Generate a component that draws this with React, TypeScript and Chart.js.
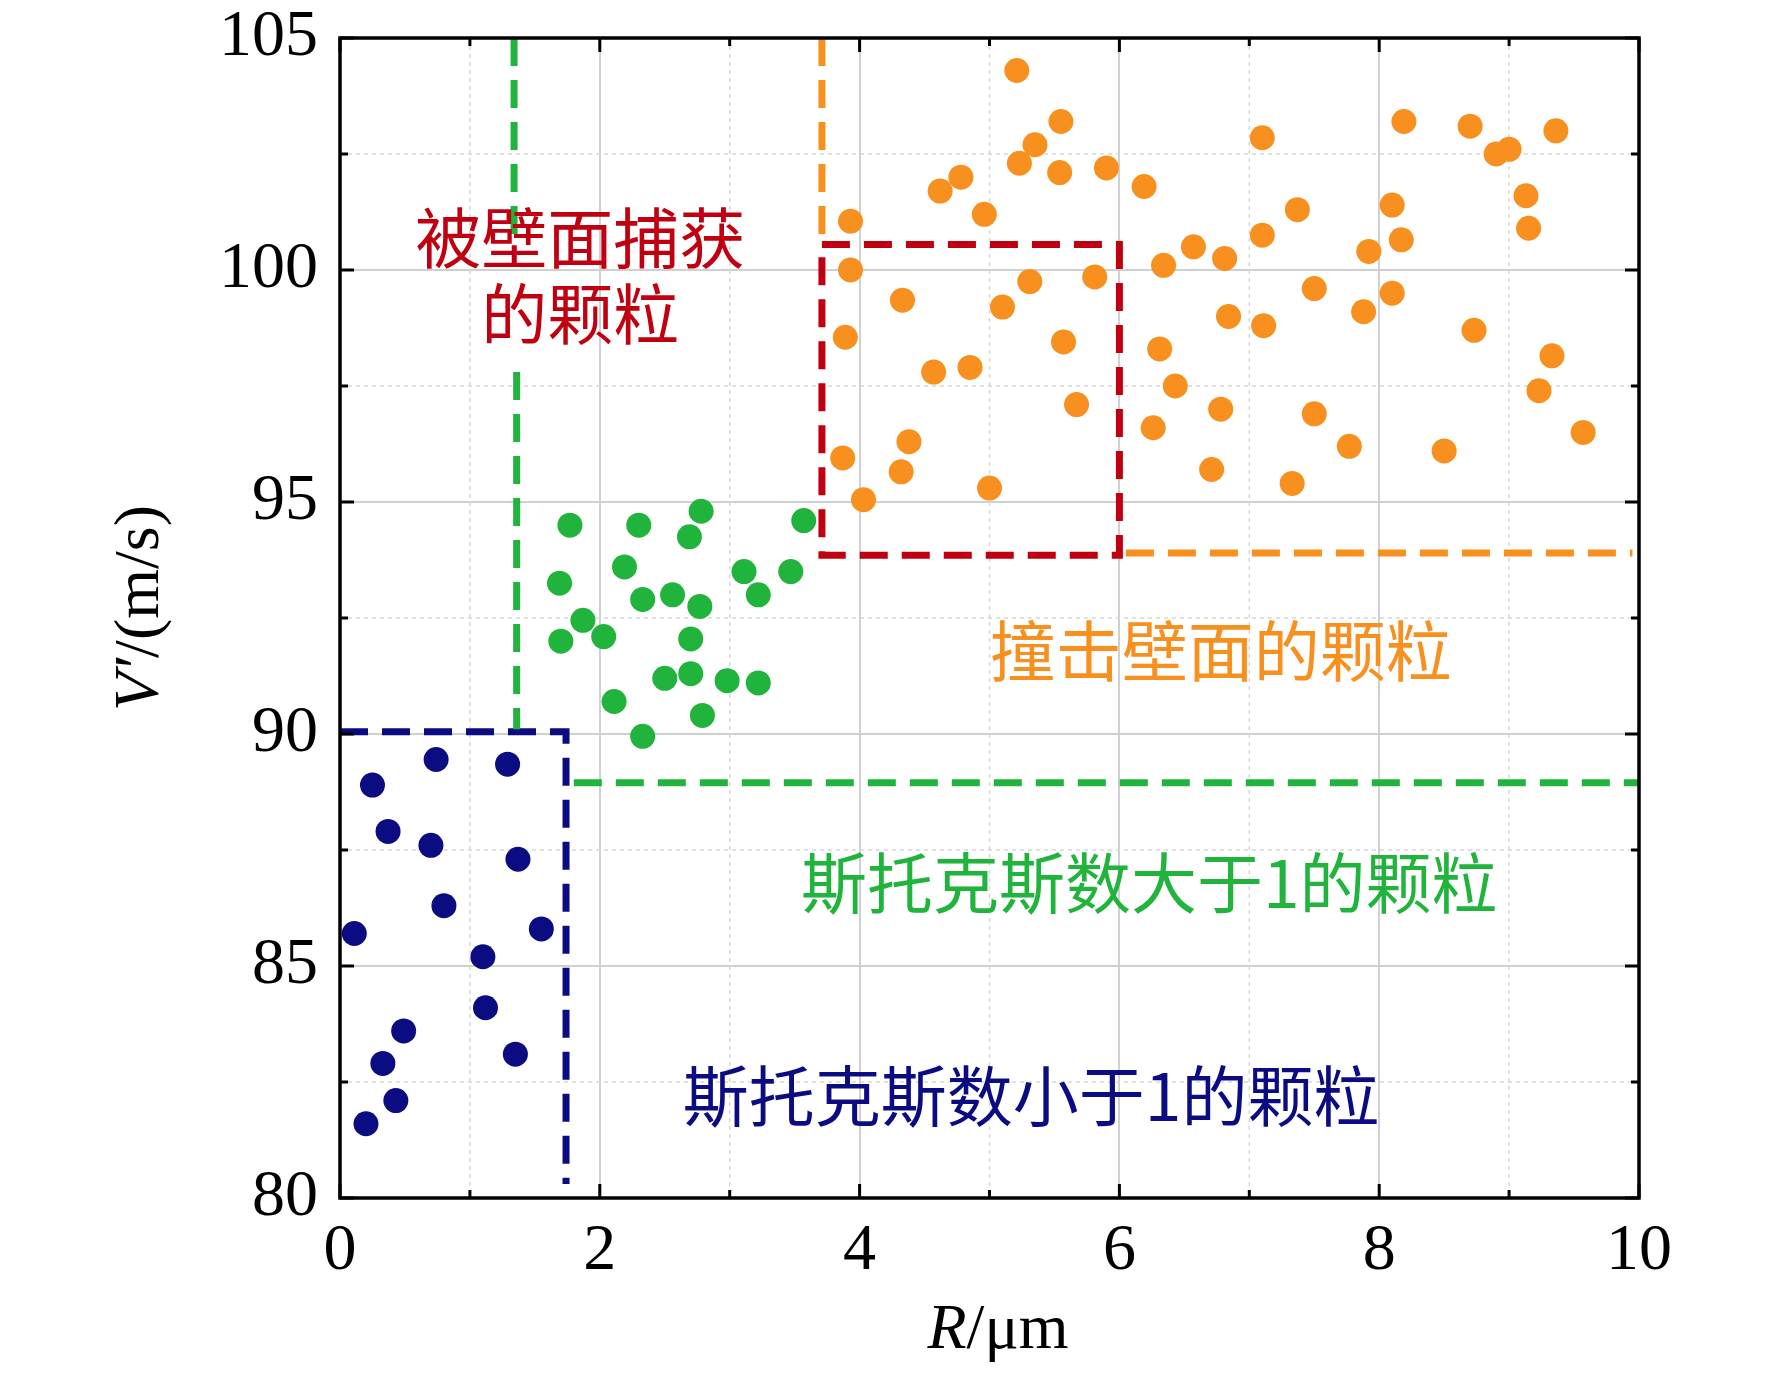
import React, { useEffect, useRef } from "react";
import { Chart, registerables } from "chart.js";
Chart.register(...registerables);

const blueX = [0.11,0.25,0.37,0.74,0.70,1.29,1.37,0.80,1.55,1.10,1.12,0.49,0.33,1.35,0.43,0.20];
const blueY = [85.7,88.9,87.9,89.45,87.6,89.35,87.3,86.3,85.8,85.2,84.1,83.6,82.9,83.1,82.1,81.6];
const greenX = [1.77,1.69,1.70,1.87,2.03,2.19,2.30,2.33,2.56,2.69,2.78,2.77,2.70,2.70,2.50,2.79,2.11,2.33,2.98,3.22,3.11,3.22,3.47,3.57];
const greenY = [94.5,93.25,92.0,92.45,92.1,93.6,94.5,92.9,93.0,94.25,94.8,92.75,92.05,91.3,91.2,90.4,90.7,89.95,91.15,91.1,93.5,93.0,93.5,94.6];
const orangeX = [5.21,5.55,5.35,5.23,5.54,5.90,6.19,4.78,4.62,4.96,3.93,3.93,3.89,4.33,5.10,5.31,5.81,5.57,5.67,4.85,4.57,4.38,4.32,3.87,4.03,5.0,6.34,6.57,6.81,7.10,7.10,7.37,6.84,7.11,7.50,6.31,6.43,6.26,6.78,6.71,7.50,7.33,7.77,8.19,8.10,8.17,7.92,8.10,7.88,8.70,8.90,9.0,9.36,9.13,9.15,8.73,9.33,9.23,9.57,8.50];
const orangeY = [104.3,103.2,102.7,102.3,102.1,102.2,101.8,102.0,101.7,101.2,101.05,100.0,98.55,99.35,99.2,99.75,99.85,98.45,97.1,97.9,97.8,96.3,95.65,95.95,95.05,95.3,100.1,100.5,100.25,102.85,100.75,101.3,99.0,98.8,99.6,98.3,97.5,96.6,97.0,95.7,96.9,95.4,96.2,103.2,101.4,100.65,100.4,99.5,99.1,103.1,102.5,102.6,103.0,101.6,100.9,98.7,98.15,97.4,96.5,96.1];

const BLUE = "#0c0c82", GREEN = "#20b43c", ORANGE = "#f7901e", RED = "#c00010";

const lines: { c: string; xs: number[]; ys: number[] }[] = [
  { c: GREEN, xs: [1.34, 1.34], ys: [105, 100.75] },
  { c: GREEN, xs: [1.36, 1.36], ys: [97.8, 90.1] },
  { c: GREEN, xs: [1.8, 10], ys: [88.95, 88.95] },
  { c: ORANGE, xs: [3.71, 3.71], ys: [105, 100.6] },
  { c: ORANGE, xs: [6.05, 9.95], ys: [93.9, 93.9] },
  { c: RED, xs: [3.71, 6.0, 6.0, 3.71, 3.71], ys: [100.55, 100.55, 93.85, 93.85, 100.55] },
  { c: BLUE, xs: [0, 1.74, 1.74], ys: [90.05, 90.05, 80.3] },
];

const labels = [
  { t: "被壁面捕获", x: 1.85, y: 100.7, c: RED },
  { t: "的颗粒", x: 1.85, y: 99.05, c: RED },
  { t: "撞击壁面的颗粒", x: 6.78, y: 91.8, c: ORANGE },
  { t: "斯托克斯数大于1的颗粒", x: 6.23, y: 86.8, c: GREEN },
  { t: "斯托克斯数小于1的颗粒", x: 5.32, y: 82.2, c: BLUE },
];

const pts = (xs: number[], ys: number[]) => xs.map((x, i) => ({ x, y: ys[i] }));

export default function App() {
  const ref = useRef<HTMLCanvasElement>(null);
  useEffect(() => {
    const deco = {
      id: "deco",
      beforeDatasetsDraw(ch: any) {
        const { ctx, chartArea: a, scales } = ch;
        const xs = scales.x, ys = scales.y;
        ctx.save();
        ctx.strokeStyle = "#d8d8d8";
        ctx.lineWidth = 1.5;
        ctx.setLineDash([4, 4]);
        for (let v = 1; v < 10; v += 2) {
          const p = xs.getPixelForValue(v);
          ctx.beginPath(); ctx.moveTo(p, a.top); ctx.lineTo(p, a.bottom); ctx.stroke();
        }
        for (let v = 82.5; v < 105; v += 5) {
          const p = ys.getPixelForValue(v);
          ctx.beginPath(); ctx.moveTo(a.left, p); ctx.lineTo(a.right, p); ctx.stroke();
        }
        ctx.restore();
      },
      afterDraw(ch: any) {
        const { ctx, chartArea: a, scales } = ch;
        const xs = scales.x, ys = scales.y;
        ctx.save();
        ctx.strokeStyle = "#000";
        ctx.lineWidth = 3.5;
        ctx.strokeRect(a.left, a.top, a.right - a.left, a.bottom - a.top);
        ctx.lineWidth = 3;
        for (let v = 0; v <= 10; v += 1) {
          const p = xs.getPixelForValue(v);
          const L = v % 2 === 0 ? 14 : 8;
          ctx.beginPath(); ctx.moveTo(p, a.bottom); ctx.lineTo(p, a.bottom - L);
          ctx.moveTo(p, a.top); ctx.lineTo(p, a.top + L); ctx.stroke();
        }
        for (let v = 80; v <= 105; v += 2.5) {
          const p = ys.getPixelForValue(v);
          const L = v % 5 === 0 ? 14 : 8;
          ctx.beginPath(); ctx.moveTo(a.left, p); ctx.lineTo(a.left + L, p);
          ctx.moveTo(a.right, p); ctx.lineTo(a.right - L, p); ctx.stroke();
        }
        ctx.setLineDash([]);
        ctx.font = '66px "Noto Sans CJK SC"';
        ctx.textAlign = "center";
        ctx.textBaseline = "middle";
        for (const l of labels) {
          ctx.fillStyle = l.c;
          ctx.fillText(l.t, xs.getPixelForValue(l.x), ys.getPixelForValue(l.y));
        }
        ctx.fillStyle = "#000";
        ctx.textBaseline = "alphabetic";
        const F = 64;
        const xt1 = "R", xt2 = "/μm";
        ctx.font = `italic ${F}px "Liberation Serif"`;
        const w1 = ctx.measureText(xt1).width;
        ctx.font = `${F}px "Liberation Serif"`;
        const w2 = ctx.measureText(xt2).width;
        const cx = 990, by = 1340;
        ctx.textAlign = "left";
        ctx.font = `italic ${F}px "Liberation Serif"`;
        ctx.fillText(xt1, cx - (w1 + w2) / 2, by);
        ctx.font = `${F}px "Liberation Serif"`;
        ctx.fillText(xt2, cx - (w1 + w2) / 2 + w1, by);
        ctx.translate(150, 600);
        ctx.rotate(-Math.PI / 2);
        const y1 = "V′", y2 = "/(m/s)";
        ctx.font = `italic ${F}px "Liberation Serif"`;
        const v1 = ctx.measureText(y1).width;
        ctx.font = `${F}px "Liberation Serif"`;
        const v2 = ctx.measureText(y2).width;
        ctx.font = `italic ${F}px "Liberation Serif"`;
        ctx.fillText(y1, -(v1 + v2) / 2, 0);
        ctx.font = `${F}px "Liberation Serif"`;
        ctx.fillText(y2, -(v1 + v2) / 2 + v1, 0);
        ctx.restore();
      },
    };
    const ds: any[] = [
      ...lines.map((l) => ({
        type: "line", data: pts(l.xs, l.ys), borderColor: l.c, borderWidth: 7,
        borderDash: [28, 14], pointRadius: 0, fill: false, tension: 0,
      })),
      { type: "scatter", data: pts(blueX, blueY), backgroundColor: BLUE, borderWidth: 0, pointRadius: 12.5 },
      { type: "scatter", data: pts(greenX, greenY), backgroundColor: GREEN, borderWidth: 0, pointRadius: 12.5 },
      { type: "scatter", data: pts(orangeX, orangeY), backgroundColor: ORANGE, borderWidth: 0, pointRadius: 12.5 },
    ];
    const tickFont = { family: "Liberation Serif", size: 66 };
    const chart = new Chart(ref.current!, {
      type: "scatter",
      data: { datasets: ds },
      plugins: [deco],
      options: {
        animation: false,
        responsive: false,
        layout: { padding: { top: 30, right: 125, left: 0, bottom: 0 } },
        plugins: { legend: { display: false }, tooltip: { enabled: false } },
        scales: {
          x: {
            type: "linear", min: 0, max: 10,
            ticks: { stepSize: 2, font: tickFont, color: "#000", padding: 14, maxRotation: 0 },
            grid: { color: "#d0d0d0", lineWidth: 2, drawTicks: false },
            border: { display: false },
            afterFit: (s: any) => { s.height = 167; s.paddingLeft = 0; s.paddingRight = 0; },
          },
          y: {
            type: "linear", min: 80, max: 105,
            ticks: { stepSize: 5, font: tickFont, color: "#000", padding: 22 },
            grid: { color: "#d0d0d0", lineWidth: 2, drawTicks: false },
            border: { display: false },
            afterFit: (s: any) => { s.width = 332; s.paddingTop = 0; s.paddingBottom = 0; },
          },
        },
      } as any,
    });
    return () => chart.destroy();
  }, []);
  return <canvas ref={ref} width={1756} height={1357} style={{ display: "block" }} />;
}
